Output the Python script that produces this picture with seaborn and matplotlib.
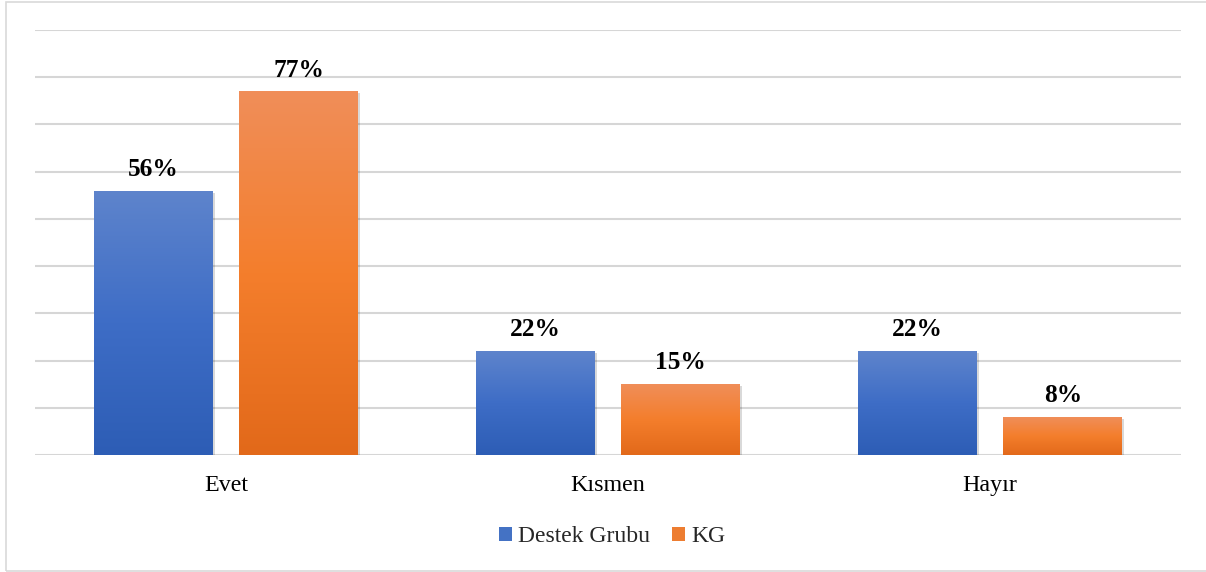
import numpy as np
import pandas as pd
import matplotlib
matplotlib.use("Agg")
import matplotlib.pyplot as plt
import matplotlib.patheffects as pe
from matplotlib.colors import LinearSegmentedColormap
from matplotlib.patches import Patch, Rectangle
import seaborn as sns

categories = ["Evet", "Kısmen", "Hayır"]
groups = ["Destek Grubu", "KG"]
destek_values = [56, 22, 22]
kg_values = [77, 15, 8]
y_ticks = [0, 10, 20, 30, 40, 50, 60, 70, 80, 90]

df = pd.DataFrame({
    "cat": categories * 2,
    "grp": [groups[0]] * 3 + [groups[1]] * 3,
    "val": destek_values + kg_values,
})

base_colors = {"Destek Grubu": "#4472C4", "KG": "#ED7D31"}
gradients = {
    "Destek Grubu": LinearSegmentedColormap.from_list(
        "blue_grad", ["#2D5DB5", "#3E6DC6", "#5E84CC"]),
    "KG": LinearSegmentedColormap.from_list(
        "orange_grad", ["#E2691A", "#F47E2C", "#F08E59"]),
}

sns.set_theme(style="white")
plt.rcParams["font.family"] = ["Liberation Serif", "DejaVu Serif"]

fig = plt.figure(figsize=(12.06, 5.72), dpi=100)
ax = fig.add_axes([35 / 1206, 1 - 455 / 572, (1181 - 35) / 1206, (455 - 30) / 572])

sns.barplot(data=df, x="cat", y="val", hue="grp", order=categories,
            hue_order=groups, palette=base_colors, width=0.762, gap=0.185,
            legend=False, ax=ax, zorder=3, linewidth=0, edgecolor="none")

ax.set_ylim(0, 90)
ax.set_xlim(-0.5, 2.5)
ax.set_yticks(y_ticks)
ax.set_yticklabels([])
ax.tick_params(axis="y", length=0)
ax.tick_params(axis="x", length=0, pad=14.5, labelsize=17.3, colors="#000000")
ax.set_xlabel("")
ax.set_ylabel("")
ax.grid(axis="y", color="#D6D6D6", linewidth=1.5, zorder=0)
ax.set_axisbelow(True)
for s in ax.spines.values():
    s.set_visible(False)

# gradient fill inside each bar, with a soft drop shadow
grad = np.linspace(0, 1, 256).reshape(-1, 1)
for container, grp, vals in zip(ax.containers, groups, [destek_values, kg_values]):
    for bar in container:
        bar.set_linewidth(0)
        bar.set_path_effects([pe.SimplePatchShadow(offset=(1.5, -1.5), shadow_rgbFace="#000000", alpha=0.15),
                              pe.Normal()])
        x0, w, h = bar.get_x(), bar.get_width(), bar.get_height()
        im = ax.imshow(grad, cmap=gradients[grp], origin="lower", aspect="auto",
                       extent=(x0, x0 + w, 0, h), zorder=4)
        im.set_clip_path(bar)
    ax.bar_label(container, labels=[f"{v}%" for v in vals], padding=7,
                 fontsize=18.3, fontweight="bold", color="#000000")

ax.set_xlim(-0.5, 2.5)
ax.set_ylim(0, 90)

handles = [Patch(facecolor=base_colors[g], edgecolor="none") for g in groups]
fig.legend(handles, groups, loc="center", bbox_to_anchor=(612 / 1206, 1 - 537 / 572),
           ncol=2, frameon=False, fontsize=17, handlelength=0.55, handleheight=0.55,
           handletextpad=0.25, columnspacing=0.95)

fig.patches.append(Rectangle((6 / 1206, 1.5 / 572), 1.2, 1 - 3 / 572,
                             transform=fig.transFigure, fill=False,
                             edgecolor="#D9D9D9", linewidth=1.2))

fig.savefig("out.png", dpi=100, facecolor="white")
